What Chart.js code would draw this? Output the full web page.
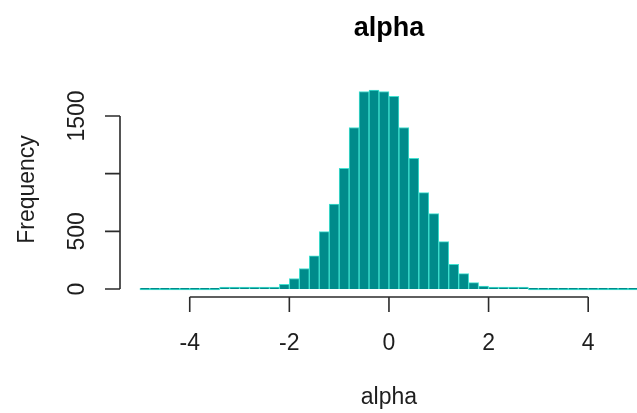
<!DOCTYPE html>
<html>
<head>
<meta charset="utf-8">
<script src="https://cdn.jsdelivr.net/npm/chart.js@4"></script>
<style>
  html, body { margin: 0; padding: 0; background: #fff; overflow: hidden; }
  #wrap { width: 637px; height: 413px; }
</style>
</head>
<body>
<div id="wrap"><canvas id="myChart" width="637" height="413"></canvas></div>
<script>
// histogram of alpha, bins of width 0.2 from -5 to 5
const binWidth = 0.2;
const binLefts = [
    -5.0, -4.8, -4.6, -4.4, -4.2, -4.0, -3.8, -3.6, -3.4, -3.2,
    -3.0, -2.8, -2.6, -2.4, -2.2, -2.0, -1.8, -1.6, -1.4, -1.2,
    -1.0, -0.8, -0.6, -0.4, -0.2, 0.0, 0.2, 0.4, 0.6, 0.8,
    1.0, 1.2, 1.4, 1.6, 1.8, 2.0, 2.2, 2.4, 2.6, 2.8,
    3.0, 3.2, 3.4, 3.6, 3.8, 4.0, 4.2, 4.4, 4.6, 4.8
];
const counts = [
    0, 0, 0, 0, 0, 0, 0, 0, 1, 1,
    2, 3, 5, 17, 41, 91, 178, 288, 497, 736,
    1045, 1400, 1712, 1725, 1712, 1670, 1400, 1133, 836, 654,
    411, 214, 134, 55, 26, 9, 3, 1, 1, 0,
    0, 0, 0, 0, 0, 0, 0, 0, 0, 0
];

const xTicks = [-4, -2, 0, 2, 4];
const xTickLabels = ['-4', '-2', '0', '2', '4'];
const yTicks = [0, 500, 1000, 1500];
const yTickLabels = ['0', '500', '', '1500'];   // R drops the 1000 label

const titleText = 'alpha';
const xTitle = 'alpha';
const yTitle = 'Frequency';

const FONT = '"Liberation Sans", Arial, Helvetica, sans-serif';

// R style axes, drawn with the chart's own scales
const rAxes = {
    id: 'rAxes',
    afterDraw(chart) {
        const ctx = chart.ctx;
        const xs = chart.scales.x;
        const ys = chart.scales.y;
        const area = chart.chartArea;
        const tick = 15;

        ctx.save();
        ctx.strokeStyle = '#2b2b2b';
        ctx.fillStyle = '#1e1e1e';
        ctx.lineWidth = 1.6;

        // x axis
        const xb = area.bottom;
        ctx.beginPath();
        ctx.moveTo(xs.getPixelForValue(xTicks[0]), xb);
        ctx.lineTo(xs.getPixelForValue(xTicks[xTicks.length - 1]), xb);
        xTicks.forEach(v => {
            const px = xs.getPixelForValue(v);
            ctx.moveTo(px, xb);
            ctx.lineTo(px, xb + tick);
        });
        ctx.stroke();

        ctx.font = '23px ' + FONT;
        ctx.textAlign = 'center';
        ctx.textBaseline = 'alphabetic';
        xTicks.forEach((v, i) => {
            ctx.fillText(xTickLabels[i], xs.getPixelForValue(v), 350);
        });

        // y axis
        const yl = area.left;
        ctx.beginPath();
        ctx.moveTo(yl, ys.getPixelForValue(yTicks[0]));
        ctx.lineTo(yl, ys.getPixelForValue(yTicks[yTicks.length - 1]));
        yTicks.forEach(v => {
            const py = ys.getPixelForValue(v);
            ctx.moveTo(yl, py);
            ctx.lineTo(yl - tick, py);
        });
        ctx.stroke();

        yTicks.forEach((v, i) => {
            if (!yTickLabels[i]) return;
            ctx.save();
            ctx.translate(84, ys.getPixelForValue(v));
            ctx.rotate(-Math.PI / 2);
            ctx.fillText(yTickLabels[i], 0, 0);
            ctx.restore();
        });

        // axis titles
        const midX = xs.getPixelForValue(0);
        ctx.fillText(xTitle, midX, 404);

        ctx.save();
        ctx.translate(34, (area.top + area.bottom) / 2);
        ctx.rotate(-Math.PI / 2);
        ctx.fillText(yTitle, 0, 0);
        ctx.restore();

        // main title
        ctx.font = 'bold 27px ' + FONT;
        ctx.fillStyle = '#000';
        ctx.fillText(titleText, midX, 36);

        ctx.restore();
    }
};

const ctx = document.getElementById('myChart').getContext('2d');
new Chart(ctx, {
    type: 'bar',
    data: {
        datasets: [{
            label: 'alpha',
            data: binLefts.map((b, i) => ({ x: b + binWidth / 2, y: counts[i] })),
            backgroundColor: '#008B8B',
            borderColor: '#40E0D0',
            borderWidth: 1,
            borderSkipped: 'start',
            minBarLength: 2,
            barPercentage: 1,
            categoryPercentage: 1
        }]
    },
    options: {
        responsive: false,
        animation: false,
        devicePixelRatio: 1,
        layout: { padding: { left: 120, right: 0, top: 82, bottom: 116 } },
        plugins: {
            legend: { display: false },
            title: { display: false },
            tooltip: { enabled: false }
        },
        scales: {
            x: { type: 'linear', display: false, offset: false, min: -5.4, max: 4.98 },
            y: { type: 'linear', display: false, min: -69, max: 1794 }
        }
    },
    plugins: [rAxes]
});
</script>
</body>
</html>
